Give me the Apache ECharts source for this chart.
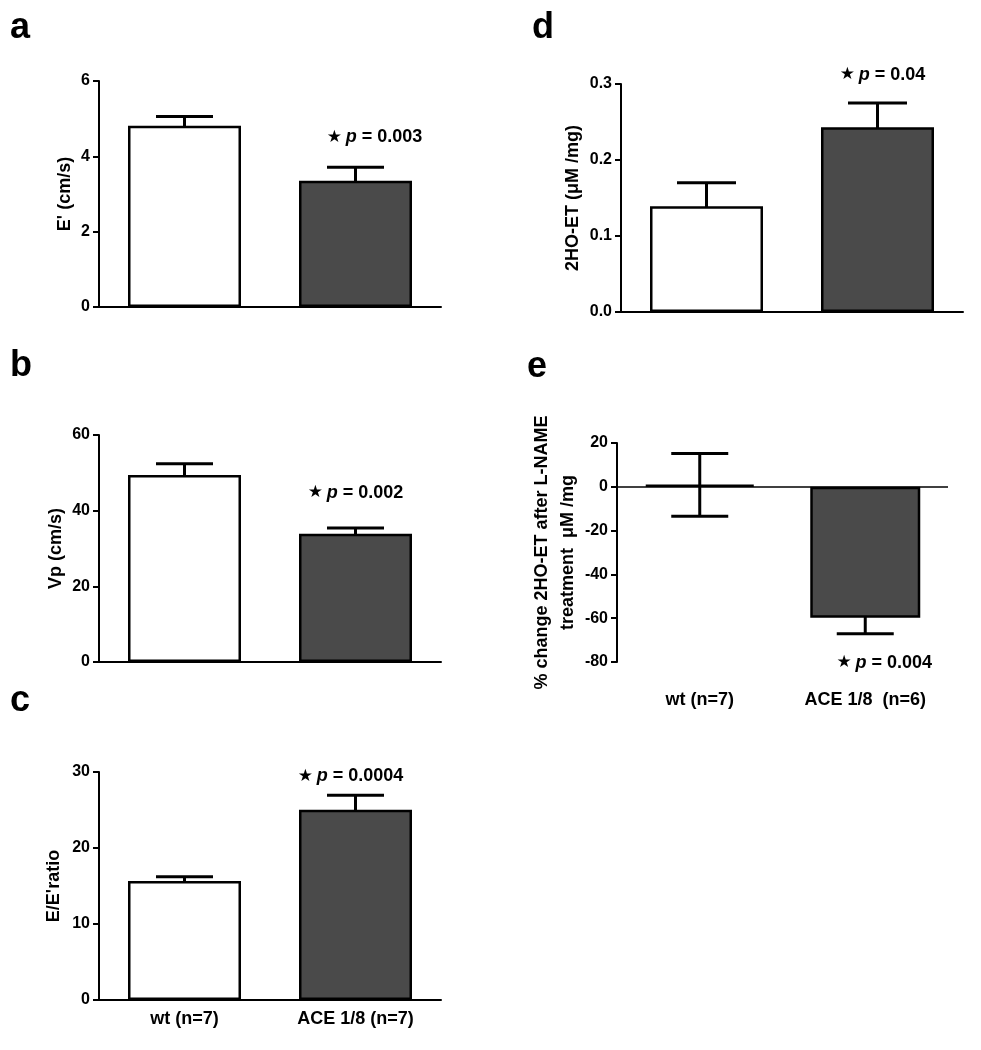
<!DOCTYPE html>
<html><head><meta charset="utf-8">
<script src="https://cdn.jsdelivr.net/npm/echarts@6/dist/echarts.min.js"></script>
<style>html,body{margin:0;padding:0;background:#fff}#c{width:981px;height:1050px}</style>
</head><body><div id="c"></div>
<script>
// ---- data ----
const groupsABC = ['wt (n=7)', 'ACE 1/8 (n=7)'];
const groupsDE = ['wt (n=7)', 'ACE 1/8  (n=6)'];
const ePrimeMean = [4.81, 3.35];
const ePrimeSem = [0.25, 0.36];
const ePrimeTicks = [0, 2, 4, 6];
const vpMean = [49.4, 33.9];
const vpSem = [3.0, 1.5];
const vpTicks = [0, 20, 40, 60];
const ratioMean = [15.66, 25.04];
const ratioSem = [0.55, 1.9];
const ratioTicks = [0, 10, 20, 30];
const hoMean = [0.139, 0.243];
const hoSem = [0.031, 0.032];
const hoTicks = [0.0, 0.1, 0.2, 0.3];
const pctMean = [0.9, -59.8];
const pctSem = [14.3, 7.3];
const pctTicks = [-80, -60, -40, -20, 0, 20];
const pValues = ['0.003', '0.002', '0.0004', '0.04', '0.004'];
const panelLetters = ['a', 'b', 'c', 'd', 'e'];
const yNames = ["E' (cm/s)", "Vp (cm/s)", "E/E'ratio", "2HO-ET (\u03bcM /mg)", "% change 2HO-ET after L-NAME\ntreatment  \u03bcM /mg"];
const barColors = ['#ffffff', '#4a4a4a'];

// ---- layout ----
const FONT = '"Liberation Sans", Arial, sans-serif';
const panels = [
  {cats: groupsABC, mean: ePrimeMean, sem: ePrimeSem, ticks: ePrimeTicks, dec: 0,
   grid: {left: 99, top: 81, width: 342, height: 226}, barW: 113, cap: 57, nameGap: 19,
   showCats: false, pPos: 'top', pDist: 21, pDx: 19, letter: [10, 40]},
  {cats: groupsABC, mean: vpMean, sem: vpSem, ticks: vpTicks, dec: 0,
   grid: {left: 99, top: 435, width: 342, height: 227}, barW: 113, cap: 57, nameGap: 30,
   showCats: false, pPos: 'top', pDist: 26, pDx: 0, letter: [10, 378]},
  {cats: groupsABC, mean: ratioMean, sem: ratioSem, ticks: ratioTicks, dec: 0,
   grid: {left: 99, top: 772, width: 342, height: 228}, barW: 113, cap: 57, nameGap: 32,
   showCats: true, catMargin: 10, pPos: 'top', pDist: 10, pDx: -5, letter: [10, 713]},
  {cats: groupsDE, mean: hoMean, sem: hoSem, ticks: hoTicks, dec: 1,
   grid: {left: 621, top: 84, width: 342, height: 228}, barW: 113, cap: 59, nameGap: 34,
   showCats: false, pPos: 'top', pDist: 19, pDx: 5, letter: [532, 40]},
  {cats: groupsDE, mean: pctMean, sem: pctSem, ticks: pctTicks, dec: 0,
   grid: {left: 617, top: 443, width: 331, height: 219}, barW: 110, cap: 57, nameGap: 32, nameLH: 26,
   showCats: true, catMargin: 29, pPos: 'bottom', pDist: 20, pDx: 19, letter: [527, 379], zeroLine: true}
];

const grids = [], xAxes = [], yAxes = [], series = [], graphics = [];
panels.forEach((P, i) => {
  grids.push(P.grid);
  xAxes.push({
    type: 'category', gridIndex: i, data: P.cats,
    axisLine: {show: !P.zeroLine, onZero: false, lineStyle: {color: '#000', width: 2}},
    axisTick: {show: false},
    axisLabel: {show: P.showCats, margin: P.catMargin || 10, color: '#000', fontFamily: FONT, fontWeight: 'bold', fontSize: 18}
  });
  const t = P.ticks;
  yAxes.push({
    type: 'value', gridIndex: i, min: t[0], max: t[t.length - 1], interval: t[1] - t[0],
    splitLine: {show: false},
    axisLine: {show: true, lineStyle: {color: '#000', width: 2}},
    axisTick: {show: true, length: 6, lineStyle: {color: '#000', width: 2}},
    axisLabel: {margin: 9, color: '#000', fontFamily: FONT, fontWeight: 'bold', fontSize: 16,
      formatter: v => Number(v).toFixed(P.dec)},
    name: yNames[i], nameLocation: 'middle', nameGap: P.nameGap,
    nameTextStyle: {color: '#000', fontFamily: FONT, fontWeight: 'bold', fontSize: 18, lineHeight: P.nameLH || 25}
  });
  const bar = {
    type: 'bar', xAxisIndex: i, yAxisIndex: i, barWidth: P.barW, z: 3,
    data: P.mean.map((m, j) => ({value: m, itemStyle: {color: barColors[j], borderColor: '#000', borderWidth: 2.5}}))
  };
  if (P.zeroLine) {
    bar.markLine = {silent: true, symbol: 'none', label: {show: false},
      lineStyle: {color: '#000', width: 1.5, type: 'solid'}, data: [{yAxis: 0}]};
  }
  series.push(bar);
  const half = P.cap / 2;
  series.push({
    type: 'custom', xAxisIndex: i, yAxisIndex: i, z: 1,
    data: P.mean.map((m, j) => [j, m, P.sem[j]]),
    renderItem: (params, api) => {
      const x = api.value(0), m = api.value(1), s = api.value(2);
      const top = api.coord([x, m + s]);
      const bot = api.coord([x, m - s]);
      const st = {stroke: '#000', lineWidth: 3};
      return {type: 'group', children: [
        {type: 'line', shape: {x1: top[0], y1: top[1], x2: bot[0], y2: bot[1]}, style: st},
        {type: 'line', shape: {x1: top[0] - half, y1: top[1], x2: top[0] + half, y2: top[1]}, style: st},
        {type: 'line', shape: {x1: bot[0] - half, y1: bot[1], x2: bot[0] + half, y2: bot[1]}, style: st}
      ]};
    }
  });
  const m1 = P.mean[1], s1 = P.sem[1];
  series.push({
    type: 'scatter', xAxisIndex: i, yAxisIndex: i, z: 5, symbolSize: 0, silent: true,
    itemStyle: {color: '#000'},
    data: [[1, P.pPos === 'top' ? m1 + s1 : m1 - s1]],
    label: {show: true, position: P.pPos, distance: P.pDist, offset: [P.pDx, 0],
      color: '#000', opacity: 1, textBorderWidth: 0,
      formatter: '{s|\u2605}{p|\u2009p}{t| = ' + pValues[i] + '}',
      rich: {
        s: {fontSize: 17, color: '#000', fontFamily: '"DejaVu Sans", sans-serif'},
        p: {fontSize: 18, color: '#000', fontFamily: FONT, fontWeight: 'bold', fontStyle: 'italic'},
        t: {fontSize: 18, color: '#000', fontFamily: FONT, fontWeight: 'bold'}
      }}
  });
  graphics.push({type: 'text', x: P.letter[0], y: P.letter[1] - 30,
    style: {text: panelLetters[i], fill: '#000', font: 'bold 36px ' + FONT, verticalAlign: 'top'}});
});

const chart = echarts.init(document.getElementById('c'), null, {renderer: 'canvas'});
chart.setOption({
  animation: false, backgroundColor: '#fff',
  grid: grids, xAxis: xAxes, yAxis: yAxes, series: series, graphic: graphics
});
</script></body></html>
